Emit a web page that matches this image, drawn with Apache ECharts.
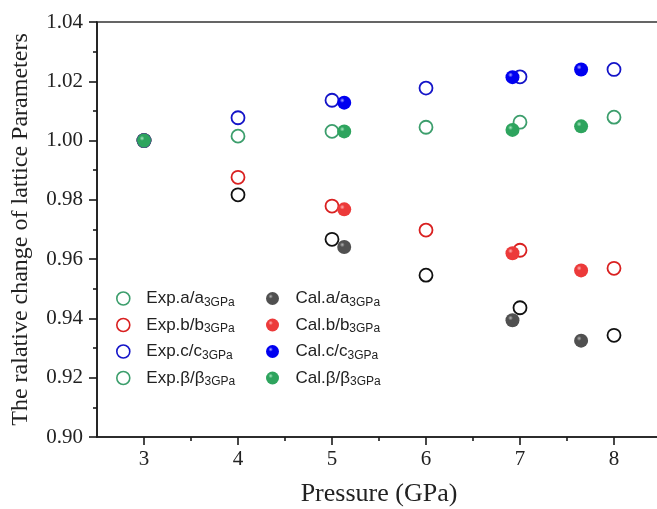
<!DOCTYPE html>
<html>
<head>
<meta charset="utf-8">
<script src="https://cdn.jsdelivr.net/npm/echarts@6/dist/echarts.min.js"></script>
<style>
  html, body { margin: 0; padding: 0; background: #fff; }
  #chart { width: 657px; height: 509px; }
</style>
</head>
<body>
<div id="chart"></div>
<script>
// Pressure points (GPa)
const pressureExp = [3, 4, 5, 6, 7, 8];
const pressureCal = [3, 5.13, 6.92, 7.65];

// Lattice parameters relative to their 3 GPa values — experiment
const expA = [1.000, 0.9817, 0.9667, 0.9546, 0.9436, 0.9343];
const expB = [1.000, 0.9876, 0.9779, 0.9698, 0.9630, 0.9569];
const expC = [1.000, 1.0077, 1.0136, 1.0177, 1.0215, 1.0240];
const expBeta = [1.000, 1.0015, 1.0031, 1.0045, 1.0062, 1.0079];

// Calculated
const calA = [1.000, 0.9641, 0.9394, 0.9325];
const calB = [1.000, 0.9768, 0.9620, 0.9562];
const calC = [1.000, 1.0128, 1.0214, 1.0240];
const calBeta = [1.000, 1.0031, 1.0036, 1.0048];

// Axis ticks
const xMajorTicks = [3, 4, 5, 6, 7, 8];
const xMinorTicks = [3.5, 4.5, 5.5, 6.5, 7.5];

const expNames = ['Exp.a/a', 'Exp.b/b', 'Exp.c/c', 'Exp.β/β'];
const calNames = ['Cal.a/a', 'Cal.b/b', 'Cal.c/c', 'Cal.β/β'];

const SERIF = '"Liberation Serif", "Times New Roman", serif';
const SANS = '"Liberation Sans", Arial, sans-serif';

const pairs = (xs, ys) => xs.map((x, i) => [x, ys[i]]);

function ring(name, ys, color) {
  return {
    name, type: 'scatter', xAxisIndex: 0, yAxisIndex: 0,
    data: pairs(pressureExp, ys),
    symbol: 'circle', symbolSize: 13,
    itemStyle: { color: 'rgba(255,255,255,0)', borderColor: color, borderWidth: 1.8, opacity: 1 },
    emphasis: { disabled: true }
  };
}

// shaded ball marker: small highlight toward the upper left
function sphere(name, ys, base, light) {
  return {
    name, type: 'scatter', xAxisIndex: 0, yAxisIndex: 0,
    data: pairs(pressureCal, ys),
    symbol: 'circle', symbolSize: 14,
    itemStyle: {
      opacity: 1,
      color: {
        type: 'radial', x: 0.36, y: 0.34, r: 0.7,
        colorStops: [
          { offset: 0, color: light },
          { offset: 0.25, color: base },
          { offset: 1, color: base }
        ]
      }
    },
    emphasis: { disabled: true }
  };
}

const legendText = {
  fontFamily: SANS, fontSize: 17, color: '#222',
  rich: {
    m: { fontFamily: SANS, fontSize: 17, color: '#222', lineHeight: 20, verticalAlign: 'middle' },
    s: { fontFamily: SANS, fontSize: 12, color: '#222', lineHeight: 12, verticalAlign: 'bottom' }
  }
};
const legendFormatter = name => '{m|' + name + '}{s|3GPa}';

const legendCommon = {
  orient: 'vertical', top: 285, itemWidth: 36, itemHeight: 13, itemGap: 8,
  selectedMode: false, textStyle: legendText, formatter: legendFormatter
};

const expColors = ['#111111', '#d92020', '#1414c8', '#3c9e6c'];

const option = {
  backgroundColor: '#ffffff',
  animation: false,
  grid: [
    { left: 97, top: 22, width: 564, height: 415, outerBoundsMode: 'none',
      show: true, borderColor: '#333', borderWidth: 1.6, backgroundColor: 'transparent' },
    { left: 97, top: 22, width: 564, height: 415, outerBoundsMode: 'none' }
  ],
  legend: [
    Object.assign({}, legendCommon, {
      left: 111,
      data: expNames.map((n, i) => ({
        name: n,
        // first entry keeps the green ring in the key
        itemStyle: { color: 'rgba(255,255,255,0)', borderColor: i === 0 ? expColors[3] : expColors[i], borderWidth: 1.6 }
      }))
    }),
    Object.assign({}, legendCommon, { left: 261, data: calNames })
  ],
  xAxis: [
    {
      type: 'value', gridIndex: 0, min: 2.5, max: 8.5,
      name: 'Pressure (GPa)', nameLocation: 'middle', nameGap: 44,
      nameTextStyle: { fontFamily: SERIF, fontSize: 26, color: '#222' },
      axisLine: { onZero: false, lineStyle: { color: '#1a1a1a', width: 1.6 } },
      axisTick: { customValues: xMajorTicks, length: 8, lineStyle: { color: '#1a1a1a', width: 1.6 } },
      axisLabel: { customValues: xMajorTicks, margin: 12, fontFamily: SERIF, fontSize: 21, color: '#222' },
      splitLine: { show: false }
    },
    {
      type: 'value', gridIndex: 1, min: 2.5, max: 8.5,
      axisLine: { show: false },
      axisTick: { customValues: xMinorTicks, length: 4, lineStyle: { color: '#1a1a1a', width: 1.6 } },
      axisLabel: { show: false },
      splitLine: { show: false }
    }
  ],
  yAxis: [
    {
      type: 'value', gridIndex: 0, min: 0.90, max: 1.04, interval: 0.02,
      name: 'The ralative change of lattice Parameters', nameLocation: 'middle', nameGap: 64,
      nameTextStyle: { fontFamily: SERIF, fontSize: 24, color: '#222' },
      axisLine: { show: true, onZero: false, lineStyle: { color: '#1a1a1a', width: 1.6 } },
      axisTick: { show: true, length: 8, lineStyle: { color: '#1a1a1a', width: 1.6 } },
      minorTick: { show: true, splitNumber: 2, length: 4, lineStyle: { color: '#1a1a1a', width: 1.6 } },
      axisLabel: { margin: 14, fontFamily: SERIF, fontSize: 21, color: '#222', formatter: v => v.toFixed(2) },
      splitLine: { show: false }
    },
    { type: 'value', gridIndex: 1, min: 0.90, max: 1.04, show: false }
  ],
  series: [
    ring(expNames[0], expA, expColors[0]),
    ring(expNames[1], expB, expColors[1]),
    ring(expNames[2], expC, expColors[2]),
    ring(expNames[3], expBeta, expColors[3]),
    sphere(calNames[0], calA, '#505050', '#b4b4b4'),
    sphere(calNames[1], calB, '#ec3a3a', '#ffb4b4'),
    sphere(calNames[2], calC, '#0000f0', '#a8a8ff'),
    sphere(calNames[3], calBeta, '#2ea45e', '#a8e6c0')
  ]
};

const chart = echarts.init(document.getElementById('chart'), null, { renderer: 'canvas' });
chart.setOption(option);
</script>
</body>
</html>
